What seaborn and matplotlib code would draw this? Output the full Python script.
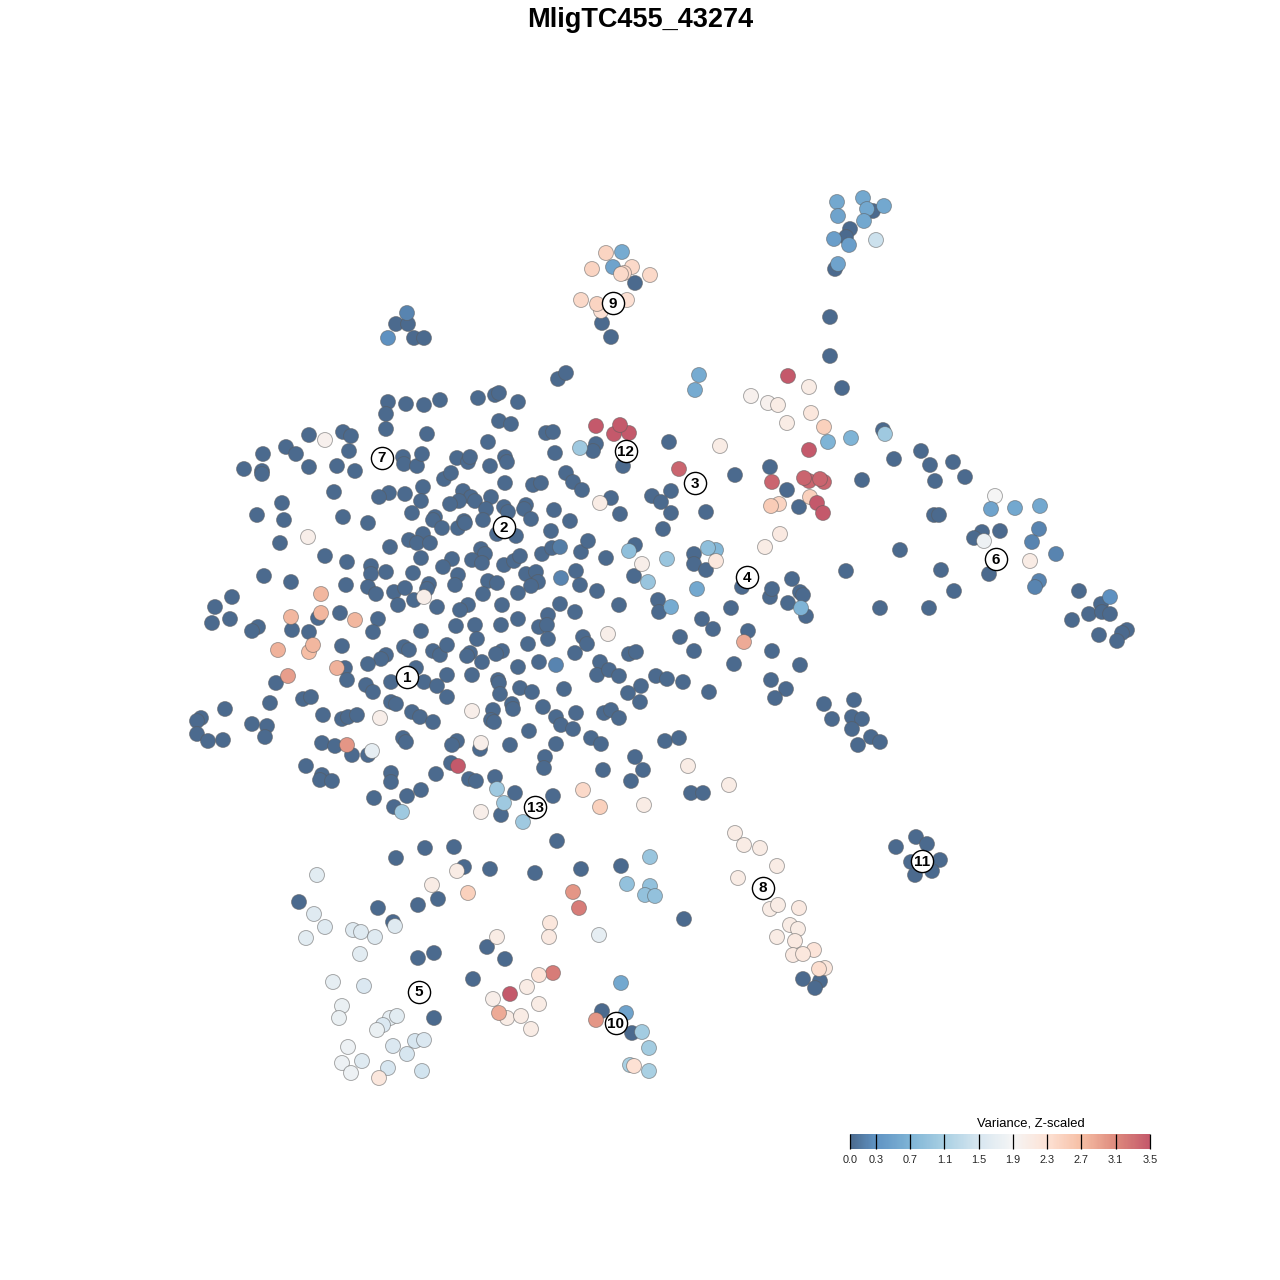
"""MligTC455_43274 t-SNE scatter, variance z-scaled."""

import matplotlib
matplotlib.use("Agg")
import matplotlib.pyplot as plt
import pandas as pd
import seaborn as sns
from matplotlib.cm import ScalarMappable
from matplotlib.colors import LinearSegmentedColormap, Normalize

TITLE = "MligTC455_43274"
LEGEND_TITLE = "Variance, Z-scaled"
LEGEND_TICKS = [0.0, 0.3, 0.7, 1.1, 1.5, 1.9, 2.3, 2.7, 3.1, 3.5]
LEGEND_COLORS = ["#4b6a8e", "#5f93c3", "#7fb4d6", "#a9d0e3", "#d7e6f0",
                 "#f5f5f5", "#fde2d5", "#f6bfa5", "#de8a7d", "#c4596b"]

# cells at the baseline (z about 0)
upper_left = [(309,435),(343,432),(351,436),(349,451),(263,454),(286,447),(296,454),(244,469),(262,471),(262,474),
    (309,467),(337,466),(355,471),(334,492),(282,503),(284,520),(257,515),(343,517),(368,523),(280,543),(325,556),
    (347,562),(264,576),(291,582),(346,585),(371,566),(371,574),(368,587),(376,594),(232,597),(215,607),(212,623),
    (230,619),(258,627),(252,631),(292,630),(309,632),(318,618),(340,613),(378,619),(373,632),(342,646)]
lower_left = [(386,655),(381,659),(368,664),(404,647),(409,650),(345,668),(347,680),(276,683),(366,685),(373,692),
    (391,682),(416,668),(424,682),(270,703),(303,699),(311,697),(391,702),(396,704),(412,712),(420,717),(323,715),
    (225,709),(201,718),(197,721),(197,734),(208,741),(223,740),(252,724),(267,726),(265,737),(342,719),(348,717),
    (357,715),(403,738),(406,742),(322,743),(335,746),(352,755),(368,755),(306,766),(322,775),(320,780),(332,781),
    (391,773),(391,782),(421,790),(407,796),(374,798),(394,807),(433,722)]
top_band = [(388,402),(406,404),(424,405),(440,400),(386,414),(386,429),(478,398),(495,395),(499,393),(518,402),
    (558,379),(566,373),(499,421),(511,424),(427,434),(488,442),(546,433),(553,432),(596,444),(593,451),(623,466),
    (669,442),(555,453)]
center_upper = [(403,457),(404,464),(417,466),(422,454),(457,458),(468,462),(470,457),(490,466),(505,457),(507,462),
    (566,473),(573,482),(582,490),(444,479),(451,473),(505,483),(533,485),(541,483),(423,487),(405,494),(389,493),
    (379,497),(421,501),(463,491),(471,497),(475,501),(459,501),(450,504),(491,497),(486,509),(504,507),(508,512),
    (526,505),(524,509),(554,510),(412,513),(435,517),(433,520),(442,528),(458,528),(464,521),(465,523),(483,520),
    (531,519),(570,521),(497,534),(516,536),(551,531),(423,534),(409,540),(417,543),(430,543),(390,547),(481,549),
    (485,554),(421,558),(452,559),(472,560),(482,563),(443,567),(504,565),(514,561),(520,556),(542,554),(552,548),
    (581,552),(588,541),(386,572),(413,573),(458,575),(455,585),(488,581),(497,583),(526,574),(536,572),(538,582),
    (531,586),(576,571),(580,585),(597,591),(394,592),(405,588),(429,584),(427,589),(414,600),(398,605),(437,607),
    (483,594),(518,593),(502,605),(468,605),(460,610),(560,604),(575,612),(548,615),(421,631),(456,626),(475,625),
    (501,625),(518,619),(539,627),(547,625),(548,639),(477,639),(433,651),(440,655),(447,645),(470,653),(467,656),
    (502,651),(496,654),(482,662),(528,644),(583,637),(587,644),(575,653),(539,662),(518,667),(447,675),(472,675),
    (498,680)]
center_lower = [(437,686),(447,697),(499,683),(500,694),(520,688),(532,692),(564,689),(543,707),(512,704),(513,709),
    (493,710),(491,720),(494,722),(556,717),(561,725),(576,713),(573,729),(604,713),(611,710),(619,718),(529,731),
    (510,745),(556,744),(591,738),(601,744),(635,757),(643,770),(631,781),(603,770),(545,757),(544,768),(457,741),
    (452,745),(480,749),(451,763),(436,774),(469,779),(476,781),(495,777),(515,793),(501,815),(553,796),(557,841),
    (665,741),(679,738),(691,793),(703,793)]
right_center = [(611,498),(620,514),(652,496),(671,491),(661,502),(671,513),(706,512),(663,529),(635,545),(606,558),
    (694,554),(694,564),(706,570),(634,576),(742,587),(619,605),(658,600),(659,612),(731,608),(770,597),(772,589),
    (792,579),(788,603),(800,592),(803,595),(806,616),(702,619),(713,629),(680,637),(748,631),(694,651),(629,654),
    (636,652),(772,651),(800,665),(734,664),(600,662),(597,675),(609,670),(619,676),(656,676),(667,679),(683,682),
    (641,686),(628,693),(640,702),(709,692),(771,680),(786,689),(775,698),(824,704),(735,475),(770,467),(787,490),
    (799,507),(862,480)]
far_right = [(830,317),(830,356),(842,388),(883,430),(894,459),(921,451),(930,465),(953,462),(935,481),(965,477),
    (934,515),(939,515),(900,550),(1000,531),(982,532),(974,538),(989,574),(941,570),(846,571),(954,591),(929,608),
    (880,608),(1079,591),(1101,604),(1089,614),(1102,612),(1110,614),(1072,620),(1127,630),(1122,633),(1099,635),
    (1117,641),(854,700),(852,717),(862,719),(832,719),(852,729),(871,737),(880,742),(858,745)]
small_clusters = [(873,211),(850,229),(846,237),(835,269),(635,283),(602,323),(611,337),(396,324),(408,324),(414,338),
    (424,338),(916,837),(927,844),(896,847),(911,862),(940,860),(915,875),(932,871),(922,861),(803,979),(820,981),
    (815,988),(602,1011),(632,1033),(614,1023)]
bottom_dark = [(425,848),(454,847),(396,858),(464,867),(490,869),(535,873),(581,869),(438,899),(418,905),(378,908),
    (299,902),(393,922),(434,953),(418,958),(487,947),(505,959),(473,979),(434,1018),(621,866),(684,919)]

# cells with some signal: x, y, z
top_signal = [(837,202,.55),(863,198,.55),(884,206,.55),(867,209,.55),(838,216,.5),(864,221,.55),(834,239,.45),
    (849,245,.45),(838,264,.5),(876,240,1.4),(606,253,2.45),(622,252,.6),(613,267,.5),(592,269,2.45),(632,267,2.4),
    (624,273,2.4),(621,274,2.4),(650,275,2.4),(581,300,2.4),(627,300,2.3),(601,311,2.3),(597,304,2.45),(407,313,.2),
    (388,338,.3),(699,375,.6),(695,390,.6)]
right_signal = [(788,376,3.5),(809,387,2.1),(751,396,2.0),(768,403,2.0),(778,405,2.1),(811,413,2.2),(787,423,2.1),
    (824,427,2.5),(828,442,.7),(851,438,.7),(885,434,1.0),(809,450,3.5),(720,446,2.1),(679,469,3.4),(772,482,3.4),
    (809,481,3.4),(804,478,3.4),(824,482,3.4),(820,479,3.4),(810,497,2.5),(817,503,3.5),(823,513,3.5),(779,504,2.45),
    (771,506,2.55),(780,534,2.15),(765,547,2.1),(995,496,1.9),(991,509,.5),(1015,508,.55),(1040,506,.55),(1039,529,.2),
    (984,541,1.8),(1032,542,.2),(1056,554,.2),(1030,561,2.1),(1039,581,.2),(1035,587,.2),(1110,597,.3)]
body_signal = [(325,440,2.0),(308,537,2.05),(321,594,2.75),(291,617,2.75),(321,613,2.75),(355,620,2.75),(278,650,2.8),
    (309,652,2.7),(313,645,2.75),(337,668,2.8),(288,676,2.95),(380,718,2.05),(347,745,3.0),(372,751,1.7),(402,812,1.0),
    (556,665,.2),(472,711,2.05),(481,743,2.05),(458,766,3.5),(497,789,1.0),(504,803,1.0),(481,812,2.05),(523,822,1.0),
    (583,790,2.4),(600,807,2.5),(644,805,2.1),(560,547,.15),(561,578,.2),(424,597,2.05),(596,426,3.5),(614,434,3.5),
    (629,433,3.5),(620,425,3.5),(580,448,1.0),(600,503,2.1),(629,551,.85),(642,564,2.05),(667,559,.95),(716,550,.75),
    (708,548,.85),(716,561,2.2),(648,582,.95),(697,589,.55),(671,607,.6),(801,608,.7),(744,642,2.85),(608,634,2.05),
    (688,766,2.1),(729,785,2.1)]
trail_signal = [(735,833,2.1),(744,845,2.1),(760,848,2.1),(777,866,2.1),(738,878,2.1),(770,909,2.1),(778,905,2.1),
    (799,908,2.15),(790,925,2.1),(798,929,2.1),(777,937,2.1),(795,941,2.15),(814,950,2.25),(793,955,2.15),(803,954,2.2),
    (825,968,2.2),(819,969,2.35)]
bottom_signal = [(317,875,1.65),(457,871,2.1),(432,885,2.1),(468,893,2.5),(573,892,3.0),(579,908,3.2),(550,923,2.2),
    (549,937,2.15),(497,937,2.1),(314,914,1.6),(325,927,1.6),(306,938,1.65),(353,930,1.6),(361,932,1.6),(375,937,1.6),
    (395,926,1.6),(360,954,1.65),(333,982,1.7),(364,986,1.55),(342,1006,1.75),(339,1018,1.75),(390,1018,1.7),
    (397,1016,1.65),(383,1025,1.55),(377,1030,1.75),(348,1047,1.8),(393,1046,1.55),(415,1041,1.5),(424,1040,1.55),
    (407,1054,1.5),(342,1063,1.8),(362,1061,1.6),(351,1073,1.8),(388,1068,1.5),(422,1071,1.45),(379,1078,2.2),
    (553,973,3.2),(539,975,2.25),(527,987,2.1),(510,994,3.5),(493,999,2.05),(539,1004,2.1),(507,1018,2.1),(499,1013,2.85),
    (521,1016,2.1),(531,1029,2.1),(599,935,1.7),(650,857,.95),(627,884,.9),(650,886,.9),(645,895,.9),(655,896,.9),
    (621,983,.55),(626,1013,.5),(596,1020,3.0),(642,1032,1.05),(649,1048,1.05),(630,1065,1.1),(634,1066,2.3),(649,1071,1.1)]

# cluster labels
cluster_ids = ["1", "2", "3", "4", "5", "6", "7", "8", "9", "10", "11", "12", "13"]
cluster_x = [407, 504, 695, 747, 419, 996, 382, 763, 613, 616, 922, 626, 535]
cluster_y = [677, 527, 483, 577, 992, 559, 458, 888, 303, 1023, 861, 451, 807]

sns.set_theme(style="white")
plt.rcParams["font.family"] = ["Liberation Sans", "DejaVu Sans"]

baseline = upper_left + lower_left + top_band + center_upper + center_lower + right_center + far_right + small_clusters + bottom_dark
signal = top_signal + right_signal + body_signal + trail_signal + bottom_signal

df = pd.concat([
    pd.DataFrame(baseline, columns=["tsne1", "tsne2"]).assign(variance=0.0),
    pd.DataFrame(signal, columns=["tsne1", "tsne2", "variance"]),
], ignore_index=True)

stops = [(t / LEGEND_TICKS[-1], c) for t, c in zip(LEGEND_TICKS, LEGEND_COLORS)]
cmap = LinearSegmentedColormap.from_list("variance", stops)
norm = Normalize(LEGEND_TICKS[0], LEGEND_TICKS[-1])

fig = plt.figure(figsize=(12.8, 12.8), dpi=100)
ax = fig.add_axes([0, 0, 1, 1])
sns.scatterplot(data=df, x="tsne1", y="tsne2", hue="variance", hue_norm=norm, palette=cmap,
                s=116, edgecolor=(0.35, 0.35, 0.35, 0.5), linewidth=0.7, legend=False, ax=ax, zorder=2)
ax.set_xlim(0, 1280)
ax.set_ylim(1280, 0)
ax.axis("off")

for label, x, y in zip(cluster_ids, cluster_x, cluster_y):
    ax.scatter(x, y, s=255, facecolor="white", edgecolor="black", linewidth=1.0, zorder=3)
    ax.text(x, y + 0.5, label, ha="center", va="center", fontsize=11, fontweight="bold", color="black", zorder=4)

ax.text(640, 20, TITLE, ha="center", va="center", fontsize=19.5, fontweight="bold", color="black")

# horizontal key, lower right
cax = fig.add_axes([850 / 1280, 1 - 1149 / 1280, 300 / 1280, 15 / 1280])
cb = fig.colorbar(ScalarMappable(norm=norm, cmap=cmap), cax=cax, orientation="horizontal")
cb.outline.set_visible(False)
cb.set_ticks(LEGEND_TICKS)
cb.set_ticklabels([f"{t:.1f}" for t in LEGEND_TICKS])
cax.set_axisbelow(False)
cax.tick_params(axis="x", direction="in", length=10.8, width=0.9, color="black", labelsize=7.8, pad=4.2)
ax.text(1031, 1123.5, LEGEND_TITLE, ha="center", va="center", fontsize=9.4, color="black")

fig.savefig("out.png", dpi=100)
